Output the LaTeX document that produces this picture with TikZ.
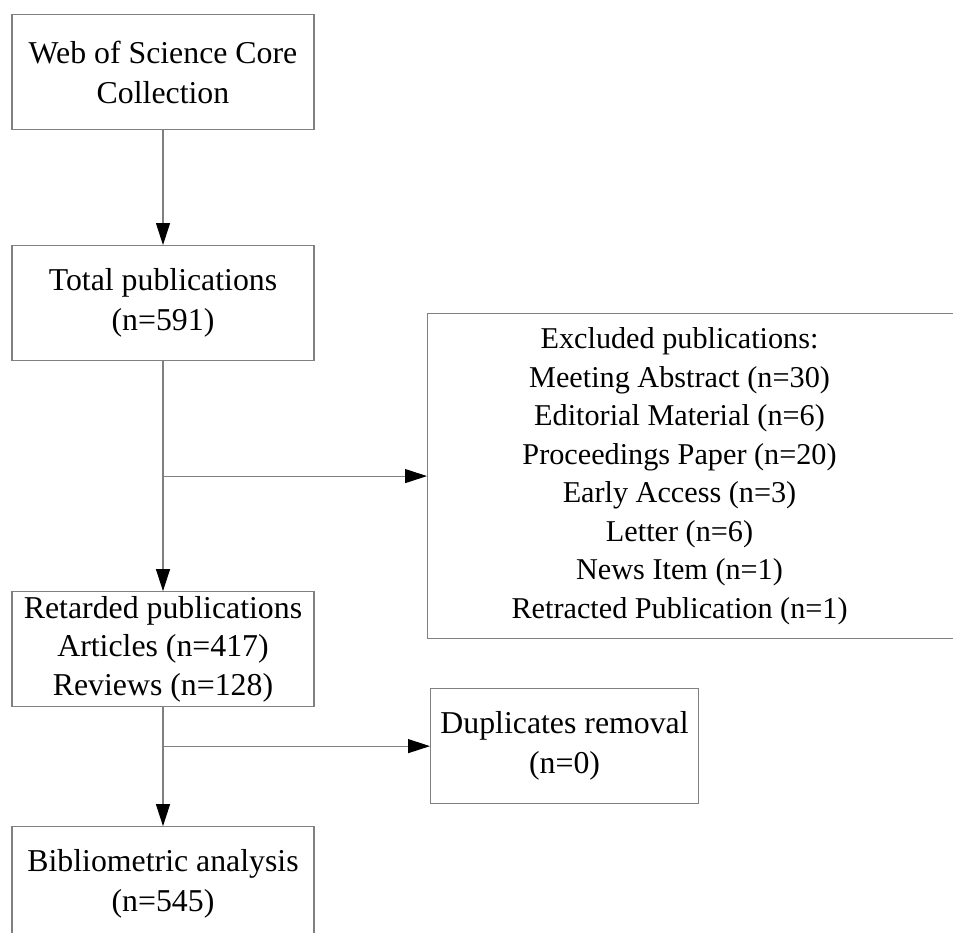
\documentclass[tikz,border=0pt]{standalone}
\usepackage{fontspec}
\setmainfont{Liberation Serif}
\usetikzlibrary{positioning, arrows.meta}

\tikzset{
  stage/.style={draw=black!50, line width=0.6pt, minimum width=6.04cm,
    minimum height=2.3cm, inner sep=1pt, align=center,
    font=\fontsize{18.1}{22.8}\selectfont},
  flow/.style={draw=black!50, line width=0.6pt,
    -{Triangle[length=0.44cm, width=0.28cm, color=black]}},
}

\begin{document}
\begin{tikzpicture}

    \useasboundingbox (0,0) rectangle (19.06,-18.66);
    \clip (0,0) rectangle (19.06,-18.66);

    % 1. Define Nodes: main column
    \node[stage] (wos) at (3.26,-1.44) {Web of Science Core\\Collection};
    \node[stage, below=2.3cm of wos] (total) {Total publications\\(n=591)};
    \node[stage, below=4.6cm of total, font=\fontsize{18.1}{21.9}\selectfont] (retained)
        {Retarded publications\\Articles (n=417)\\Reviews (n=128)};
    \node[stage, below=2.38cm of retained] (biblio) {Bibliometric analysis\\(n=545)};

    % 2. Split points on the vertical lines
    \path (total.south) -- (retained.north) coordinate[midway] (split1);
    \coordinate[below=0.78cm of retained.south] (split2);

    % 3. Side boxes: excluded and duplicates
    \node[stage, right=5.28cm of split1, minimum width=11.2cm, minimum height=6.5cm,
        label={[align=center, xshift=-0.56cm, font=\fontsize{17.2}{21.9}\selectfont]center:
        Excluded publications:\\Meeting Abstract (n=30)\\Editorial Material (n=6)\\
        Proceedings Paper (n=20)\\Early Access (n=3)\\Letter (n=6)\\
        News Item (n=1)\\Retracted Publication (n=1)}] (excluded) {};
    \node[stage, right=5.34cm of split2, minimum width=5.36cm] (dup) {Duplicates removal\\(n=0)};

    % 4. Draw Arrows
    \draw[flow] (wos) -- (total);
    \draw[flow] (total) -- (retained);
    \draw[flow] (split1) -- (excluded);
    \draw[flow] (retained) -- (biblio);
    \draw[flow] (split2) -- (dup);
\end{tikzpicture}
\end{document}
